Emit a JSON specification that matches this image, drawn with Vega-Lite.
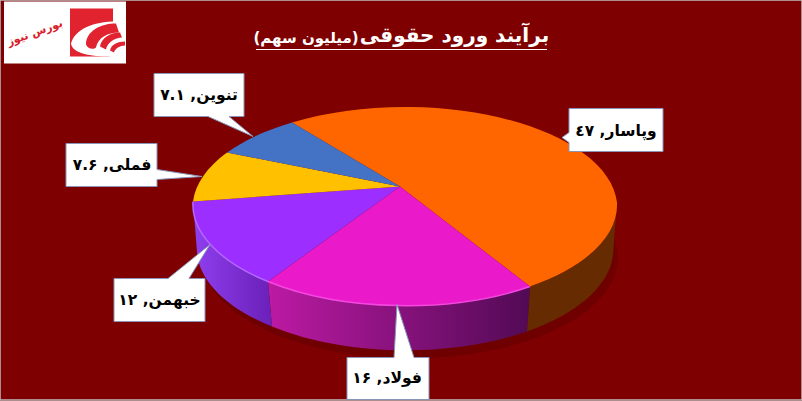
{
"$schema":"https://vega.github.io/schema/vega-lite/v6.json",
"width":802,"height":401,
"autosize":{"type":"fit","contains":"padding"},
"padding":0,
"background":"#7F0000",
"config":{"view":{"stroke":"#bdbdbd","strokeWidth":1.5}},
"datasets":{
"slices":[
{"name":"وپاسار","value":47,"label":"وپاسار, ٤٧"},
{"name":"فولاد","value":16,"label":"فولاد, ۱۶"},
{"name":"خبهمن","value":12,"label":"خبهمن, ۱۲"},
{"name":"فملی","value":7.6,"label":"فملی, ۷.۶"},
{"name":"تنوین","value":7.1,"label":"تنوین, ۷.۱"}
],
"decor":[
{"part":"shadow"},{"part":"logoBg"},{"part":"logoSquare"},{"part":"logoCut"},{"part":"band1"},{"part":"band2"},{"part":"band3"},{"part":"underline"}
],
"titles":[
{"text":"برآیند ورود حقوقی","rank":1},
{"text":"(میلیون سهم)","rank":2}
],
"logo":[{"text":"بورس نیوز"}]
},
"layer":[
{"data":{"name":"decor"},
"mark":{"type":"point","filled":true,"opacity":1,"strokeWidth":0,"size":4},
"encoding":{
"shape":{"field":"part","type":"nominal","legend":null,"scale":{
"domain":["shadow","logoBg","logoSquare","logoCut","band1","band2","band3","underline"],
"range":[
"M-199 57.5A208 101 0 1 1 217 57.5A208 101 0 1 1 -199 57.5Z",
"M-397 -198.5L-275 -198.5L-275 -136.5L-397 -136.5Z",
"M-331 -191.5L-288 -191.5L-288 -143.5L-331 -143.5Z",
"M-330 -156.5C-326 -170.5 -309 -178.5 -284 -178.5L-275 -140.5L-293 -143.5C-316 -143.5 -329 -148.5 -330 -156.5Z",
"M-315 -155.5C-315 -168.5 -301 -176.5 -285 -176.5L-282 -167.5C-293 -167.5 -303 -162.5 -305 -152.5C-307 -150.5 -313 -150.5 -315 -155.5Z",
"M-301 -153.5C-300 -161.5 -291 -167.5 -281 -167.5L-279 -162.5C-286 -162.5 -294 -157.5 -295 -150.5Z",
"M-291 -149.5C-290 -155.5 -283 -158.5 -276 -158.5L-276 -154.5C-281 -154.5 -286 -151.5 -287 -147.5Z",
"M-145 -151L146 -151L146 -150L-145 -150Z"
]}},
"fill":{"field":"part","type":"nominal","legend":null,"scale":{
"domain":["shadow","logoBg","logoSquare","logoCut","band1","band2","band3","underline"],
"range":["rgba(0,0,0,0.12)","#ffffff","#e0232e","#ffffff","#e0232e","#e0232e","#e0232e","#ffffff"]}}
}},
{"data":{"name":"slices"},
"transform":[{"filter":{"field":"name","equal":"وپاسار"}}],
"mark":{"type":"point","filled":true,"opacity":1,"strokeWidth":0,"size":4,"fill":"#662B00"},
"encoding":{
"shape":{"field":"name","type":"nominal","legend":null,"scale":{"domain":["وپاسار"],"range":["M129 86.5A212 101 0 0 0 216 2.5L212 54.5A208 101 0 0 1 126 131.5Z"]}}
}},
{"data":{"name":"slices"},
"transform":[{"filter":{"field":"name","equal":"فولاد"}}],
"mark":{"type":"point","filled":true,"opacity":1,"strokeWidth":0,"size":4,"fill":{"gradient":"linear","x1":0,"y1":0,"x2":1,"y2":0,"stops":[{"offset":0,"color":"#BC1AA3"},{"offset":1,"color":"#520A55"}]}},
"encoding":{
"shape":{"field":"name","type":"nominal","legend":null,"scale":{"domain":["فولاد"],"range":["M-133 81.5A212 101 0 0 0 129 86.5L126 131.5A208 101 0 0 1 -129 126.5Z"]}}
}},
{"data":{"name":"slices"},
"transform":[{"filter":{"field":"name","equal":"خبهمن"}}],
"mark":{"type":"point","filled":true,"opacity":1,"strokeWidth":0,"size":4,"fill":{"gradient":"linear","x1":0,"y1":0,"x2":1,"y2":0,"stops":[{"offset":0,"color":"#8F3FEF"},{"offset":1,"color":"#6A20B8"}]}},
"encoding":{
"shape":{"field":"name","type":"nominal","legend":null,"scale":{"domain":["خبهمن"],"range":["M-208 1.5A212 101 0 0 0 -133 81.5L-129 126.5A208 101 0 0 1 -204 51.5Z"]}}
}},
{"data":{"name":"slices"},
"mark":{"type":"point","filled":true,"opacity":1,"strokeWidth":0,"size":4},
"encoding":{
"shape":{"field":"name","type":"nominal","legend":null,"scale":{
"domain":["وپاسار","فولاد","خبهمن","فملی","تنوین"],
"range":[
"M-1 -13.5L-109 -77.5A212 101 0 0 1 9 -93A212 101 0 0 1 216 2.5A212 101 0 0 1 129 86.5Z",
"M-1 -13.5L129 86.5A212 101 0 0 1 -133 81.5Z",
"M-1 -13.5L-133 81.5A212 101 0 0 1 -208 1.5Z",
"M-1 -13.5L-208 1.5A212 101 0 0 1 -174 -47.5Z",
"M-1 -13.5L-174 -47.5A212 101 0 0 1 -109 -77.5Z"
]}},
"fill":{"field":"name","type":"nominal","legend":null,"scale":{
"domain":["وپاسار","فولاد","خبهمن","فملی","تنوین"],
"range":["#FF6600","#EA1ACB","#9C2EFF","#FFC000","#4472C4"]}}
}},
{"data":{"name":"slices"},
"transform":[{"filter":{"field":"name","oneOf":["فولاد","خبهمن"]}}],
"mark":{"type":"point","filled":false,"opacity":1,"strokeWidth":1.5,"size":4},
"encoding":{
"shape":{"field":"name","type":"nominal","legend":null,"scale":{
"domain":["فولاد","خبهمن"],
"range":["M-133 81.5A212 101 0 0 0 129 86.5","M-208 1.5A212 101 0 0 0 -133 81.5"]}},
"stroke":{"field":"name","type":"nominal","legend":null,"scale":{
"domain":["فولاد","خبهمن"],"range":["#F548E0","#B566FF"]}}
}},
{"data":{"name":"slices"},
"mark":{"type":"point","filled":true,"opacity":1,"size":4,"fill":"#ffffff","stroke":"#8A93B8","strokeWidth":1},
"encoding":{
"shape":{"field":"name","type":"nominal","legend":null,"scale":{
"domain":["وپاسار","فولاد","خبهمن","فملی","تنوین"],
"range":[
"M168 -91.5L262 -91.5L262 -48.5L168 -48.5L168 -57.5L161 -62.5L168 -67.5Z",
"M-54 157.5L-7 157.5L-4 104.5L13 157.5L28 157.5L28 199.5L-54 199.5Z",
"M-287 78.5L-233 78.5L-191 44.5L-212 78.5L-196 78.5L-196 121.5L-287 121.5Z",
"M-335 -56.5L-244 -56.5L-244 -30.5L-199 -23.5L-244 -20.5L-244 -13.5L-335 -13.5Z",
"M-247 -126.5L-157 -126.5L-157 -83.5L-172 -83.5L-148 -63.5L-193 -83.5L-247 -83.5Z"
]}}
}},
{"data":{"name":"slices"},
"mark":{"type":"text","font":"DejaVu Sans","fontWeight":"bold","fontSize":15.5,"color":"#000000","align":"center","baseline":"middle"},
"encoding":{
"x":{"field":"value","type":"quantitative","axis":null,"scale":{"domain":[7.1,7.6,12,16,47],"range":[199,112,159.5,387,616],"zero":false,"nice":false}},
"y":{"field":"value","type":"quantitative","axis":null,"scale":{"domain":[7.1,7.6,12,16,47],"range":[95,165,300,378,131],"zero":false,"nice":false}},
"text":{"field":"label","type":"nominal"}
}},
{"data":{"name":"titles"},
"mark":{"type":"text","font":"DejaVu Sans","fontWeight":"bold","color":"#ffffff","align":"center","baseline":"middle"},
"encoding":{
"x":{"field":"rank","type":"quantitative","axis":null,"scale":{"domain":[1,2],"range":[454.5,306],"zero":false,"nice":false}},
"y":{"field":"rank","type":"quantitative","axis":null,"scale":{"domain":[1,2],"range":[36,38],"zero":false,"nice":false}},
"size":{"field":"rank","type":"quantitative","legend":null,"scale":{"domain":[1,2],"range":[20,15],"zero":false,"nice":false}},
"text":{"field":"text","type":"nominal"}
}},
{"data":{"name":"logo"},
"mark":{"type":"text","font":"DejaVu Sans","fontWeight":"bold","fontSize":11,"angle":340,"color":"#D8202B","align":"center","baseline":"middle"},
"encoding":{
"x":{"datum":1,"type":"quantitative","axis":null,"scale":{"domain":[0,2],"range":[0,70],"zero":false,"nice":false}},
"y":{"datum":1,"type":"quantitative","axis":null,"scale":{"domain":[0,2],"range":[0,66],"zero":false,"nice":false}},
"text":{"field":"text","type":"nominal"}
}}
],
"resolve":{"scale":{"shape":"independent","fill":"independent","stroke":"independent","x":"independent","y":"independent","size":"independent"}}
}
